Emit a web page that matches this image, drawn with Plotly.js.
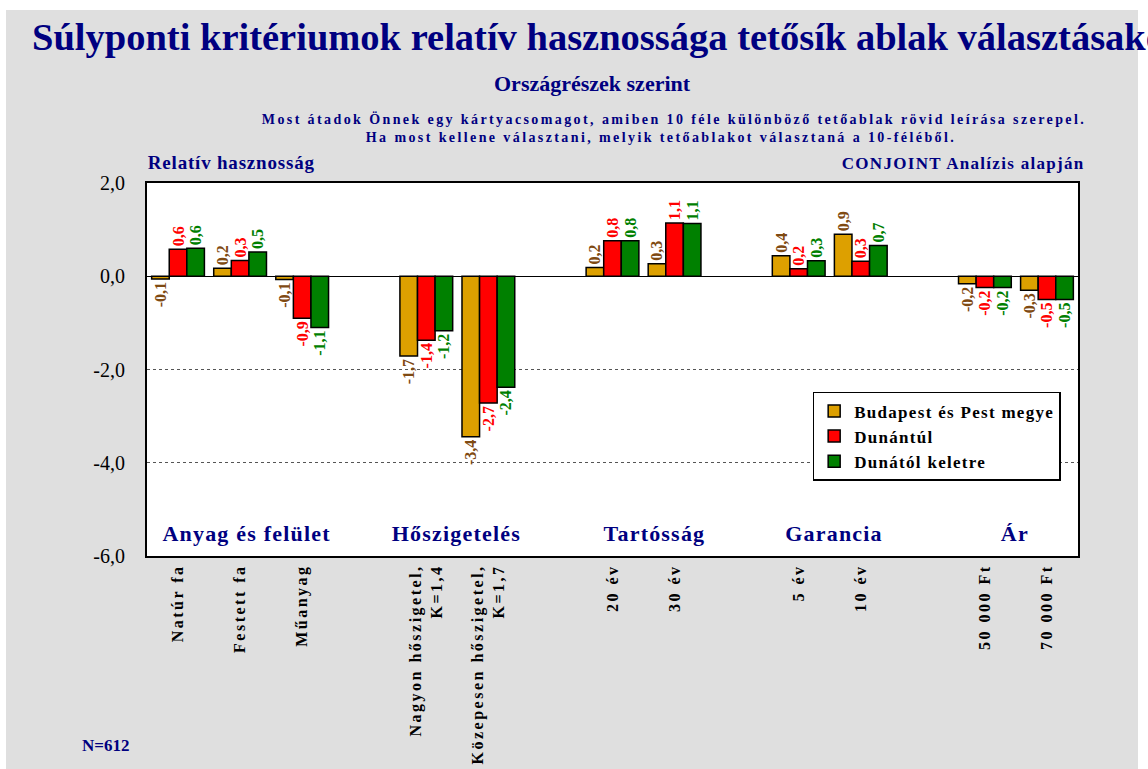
<!DOCTYPE html>
<html>
<head>
<meta charset="utf-8">
<script src="https://cdn.plot.ly/plotly-3.0.1.min.js"></script>
<style>
  html, body { margin: 0; padding: 0; background: #ffffff; }
  #bg { position: absolute; left: 6px; top: 10px; width: 1132px; height: 759px; background: #dfdfdf; }
  #chart { position: absolute; left: 0; top: 0; width: 1148px; height: 769px; }
  .legendtext { letter-spacing: 1.3px; }
  .xtick text { letter-spacing: 2.5px; }
  .annotation[data-index="1"] text, .annotation[data-index="2"] text { letter-spacing: 2.4px; }
  .annotation[data-index="3"] text { letter-spacing: 0.8px; }
  .annotation[data-index="4"] text { letter-spacing: 1.3px; }
  .annotation[data-index="5"] text, .annotation[data-index="6"] text, .annotation[data-index="7"] text,
  .annotation[data-index="8"] text, .annotation[data-index="9"] text { letter-spacing: 1.2px; }
</style>
</head>
<body>
<div id="bg"></div>
<div id="chart"></div>
<script>
// ---- data ----
const slotOrder = ['Natúr fa', 'Festett fa', 'Műanyag', ' ',
  'Nagyon hőszigetel,<br>K=1,4', 'Közepesen hőszigetel,<br>K=1,7', '  ',
  '20 év', '30 év', '   ', '5 év', '10 év', '    ', '50 000 Ft', '70 000 Ft'];
const attributes = ['Natúr fa', 'Festett fa', 'Műanyag',
  'Nagyon hőszigetel,<br>K=1,4', 'Közepesen hőszigetel,<br>K=1,7',
  '20 év', '30 év', '5 év', '10 év', '50 000 Ft', '70 000 Ft'];
const seriesNames = ['Budapest és Pest megye', 'Dunántúl', 'Dunától keletre'];
const budapest = [-0.06, 0.17, -0.07, -1.71, -3.44, 0.19, 0.27, 0.44, 0.9, -0.16, -0.3];
const dunantul = [0.58, 0.34, -0.9, -1.37, -2.72, 0.76, 1.14, 0.16, 0.32, -0.24, -0.5];
const keletre  = [0.6, 0.52, -1.1, -1.17, -2.38, 0.76, 1.13, 0.33, 0.66, -0.24, -0.5];
const groupLabels = ['Anyag és felület', 'Hőszigetelés', 'Tartósság', 'Garancia', 'Ár'];
const yTicks = [2, 0, -2, -4, -6];

// ---- helpers / styles ----
const fmt = v => v.toFixed(1).replace('.', ',');
const serif = 'Liberation Serif, Times New Roman, serif';
const navy = '#000080';
const barColors = ['#dda000', '#ff0000', '#008000'];
const labelColors = ['#7f4a12', '#ff0000', '#008000'];
const seriesValues = [budapest, dunantul, keletre];

const traces = seriesValues.map((vals, i) => ({
  type: 'bar',
  name: seriesNames[i],
  x: attributes,
  y: vals,
  marker: { color: barColors[i], line: { color: '#000000', width: 1.5 } },
  text: vals.map(fmt),
  textposition: 'outside',
  textangle: -90,
  constraintext: 'none',
  cliponaxis: false,
  textfont: { family: serif, size: 16, color: labelColors[i], weight: 'bold' },
  legendgroup: 'g' + i,
  hoverinfo: 'x+y+name'
}));

const groupX = [0.107, 0.332, 0.545, 0.738, 0.932];

const annotations = [
  { text: 'Országrészek szerint', x: 0.479, y: 1.268, size: 22 },
  { text: 'Most átadok Önnek egy kártyacsomagot, amiben 10 féle különböző tetőablak rövid leírása szerepel.', x: 0.566, y: 1.172, size: 14 },
  { text: 'Ha most kellene választani, melyik tetőablakot választaná a 10-féléből.', x: 0.552, y: 1.121, size: 14 },
  { text: 'Relatív hasznosság', x: 0.0065, y: 1.054, size: 19, xanchor: 'left' },
  { text: 'CONJOINT Analízis alapján', x: 0.992, y: 1.051, size: 17, xanchor: 'right' }
].map(a => ({
  text: a.text, xref: 'paper', yref: 'paper', x: a.x, y: a.y,
  xanchor: a.xanchor || 'center', yanchor: 'middle', showarrow: false,
  font: { family: serif, size: a.size, color: navy, weight: 'bold' }
}));

groupLabels.forEach((g, i) => annotations.push({
  text: g, xref: 'paper', yref: 'y', x: groupX[i], y: -5.52,
  xanchor: 'center', yanchor: 'middle', showarrow: false,
  font: { family: serif, size: 22, color: navy, weight: 'bold' }
}));

annotations.push({
  text: 'N=612', xref: 'paper', yref: 'paper', x: -0.072, y: -0.507,
  xanchor: 'left', yanchor: 'middle', showarrow: false,
  font: { family: serif, size: 17, color: navy, weight: 'bold' }
});

const layout = {
  width: 1148, height: 769,
  paper_bgcolor: 'rgba(0,0,0,0)',
  plot_bgcolor: '#ffffff',
  separators: ', ',
  margin: { l: 147, r: 70, t: 183, b: 213 },
  title: {
    text: 'Súlyponti kritériumok relatív hasznossága tetősík ablak választásakor',
    xref: 'container', yref: 'container', x: 32 / 1148, xanchor: 'left',
    y: 1 - 37 / 769, yanchor: 'middle',
    font: { family: serif, size: 38.5, color: navy, weight: 'bold' }
  },
  barmode: 'group',
  bargap: 0.15,
  bargroupgap: 0,
  showlegend: true,
  legend: {
    x: 0.715, y: 0.44, xanchor: 'left', yanchor: 'top',
    bgcolor: '#ffffff', bordercolor: '#000000', borderwidth: 1.5,
    font: { family: serif, size: 17, color: '#000000', weight: 'bold' },
    traceorder: 'normal', tracegroupgap: 13,
    itemwidth: 30
  },
  xaxis: {
    type: 'category',
    categoryorder: 'array',
    categoryarray: slotOrder,
    range: [-0.5, slotOrder.length - 0.5],
    tickangle: -90,
    ticks: '',
    tickfont: { family: serif, size: 16, color: '#000000', weight: 'bold' },
    showline: true, mirror: true, linecolor: '#000000', linewidth: 2,
    showgrid: false, fixedrange: true
  },
  yaxis: {
    range: [-6, 2],
    tickmode: 'array',
    tickvals: yTicks,
    ticktext: yTicks.map(fmt),
    ticks: '',
    ticklabelstandoff: 16,
    tickfont: { family: serif, size: 20, color: '#000000' },
    showline: true, mirror: true, linecolor: '#000000', linewidth: 2,
    showgrid: true, gridcolor: '#555555', griddash: 'dot', gridwidth: 1,
    zeroline: true, zerolinecolor: '#000000', zerolinewidth: 1.5,
    fixedrange: true
  },
  annotations: annotations
};

Plotly.newPlot('chart', traces, layout, { displayModeBar: false, staticPlot: true });
</script>
</body>
</html>
